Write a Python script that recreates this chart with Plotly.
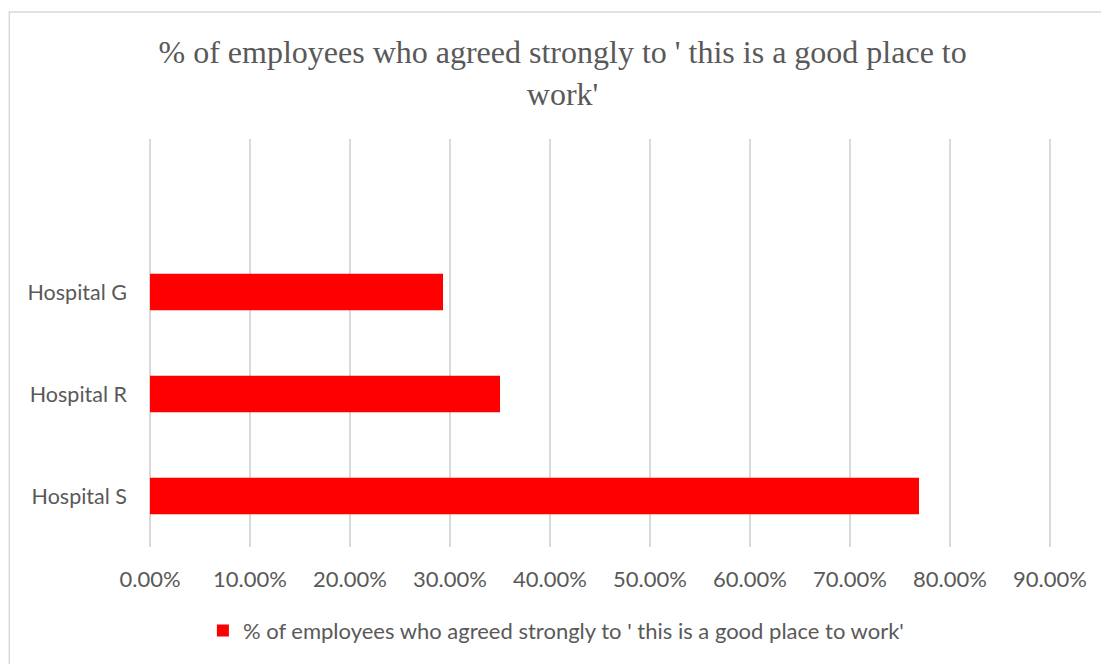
import plotly.graph_objects as go

# Survey results per hospital (share of employees, as fractions)
hospitals = ["Hospital S", "Hospital R", "Hospital G"]
agreed_strongly = [0.769, 0.350, 0.293]
series_name = "% of employees who agreed strongly to ' this is a good place to work'"
chart_title = "% of employees who agreed strongly to ' this is a good place to<br>work'"

TEXT_GREY = "#595959"
GRID_GREY = "#d9d9d9"
SANS = "Lato, Open Sans, sans-serif"

fig = go.Figure(
    go.Bar(
        x=agreed_strongly,
        y=hospitals,
        orientation="h",
        name=series_name,
        marker=dict(color="#ff0000", line=dict(width=0)),
        width=0.36,
        showlegend=True,
    )
)

# plot area is 902 px wide for 0.902, so 0.9 lands 2 px inside the right edge
# and its gridline is drawn
fig.update_layout(
    width=1101,
    height=664,
    margin=dict(l=150, r=49, t=139, b=115),
    paper_bgcolor="white",
    plot_bgcolor="white",
    title=dict(
        text=chart_title,
        font=dict(family="Liberation Serif, Times New Roman, serif", size=32, color=TEXT_GREY),
        x=0.511,
        xanchor="center",
        xref="container",
        y=0.905,
        yanchor="top",
        yref="container",
    ),
    xaxis=dict(
        range=[0, 0.902],
        dtick=0.1,
        tick0=0,
        tickformat=".2%",
        showgrid=True,
        gridcolor=GRID_GREY,
        gridwidth=1.5,
        zeroline=True,
        zerolinecolor=GRID_GREY,
        zerolinewidth=1.5,
        showline=False,
        ticks="",
        tickfont=dict(family=SANS, size=22, color=TEXT_GREY),
        ticklabelstandoff=17,
    ),
    yaxis=dict(
        type="category",
        categoryorder="array",
        categoryarray=hospitals,
        range=[-0.5, 3.5],
        showgrid=False,
        zeroline=False,
        showline=False,
        ticks="",
        tickfont=dict(family=SANS, size=21.5, color=TEXT_GREY),
        ticklabelstandoff=22,
    ),
    legend=dict(
        orientation="h",
        x=0.45,
        xanchor="center",
        y=-0.205,
        yanchor="middle",
        font=dict(family=SANS, size=22, color=TEXT_GREY),
        itemwidth=30,
    ),
    shapes=[
        dict(
            type="rect",
            xref="paper",
            yref="paper",
            x0=-0.156,
            x1=1.07,
            y0=-0.3,
            y1=1.311,
            line=dict(color=GRID_GREY, width=1.5),
            fillcolor="rgba(0,0,0,0)",
            layer="below",
        )
    ],
)

fig.write_html("out.html")
